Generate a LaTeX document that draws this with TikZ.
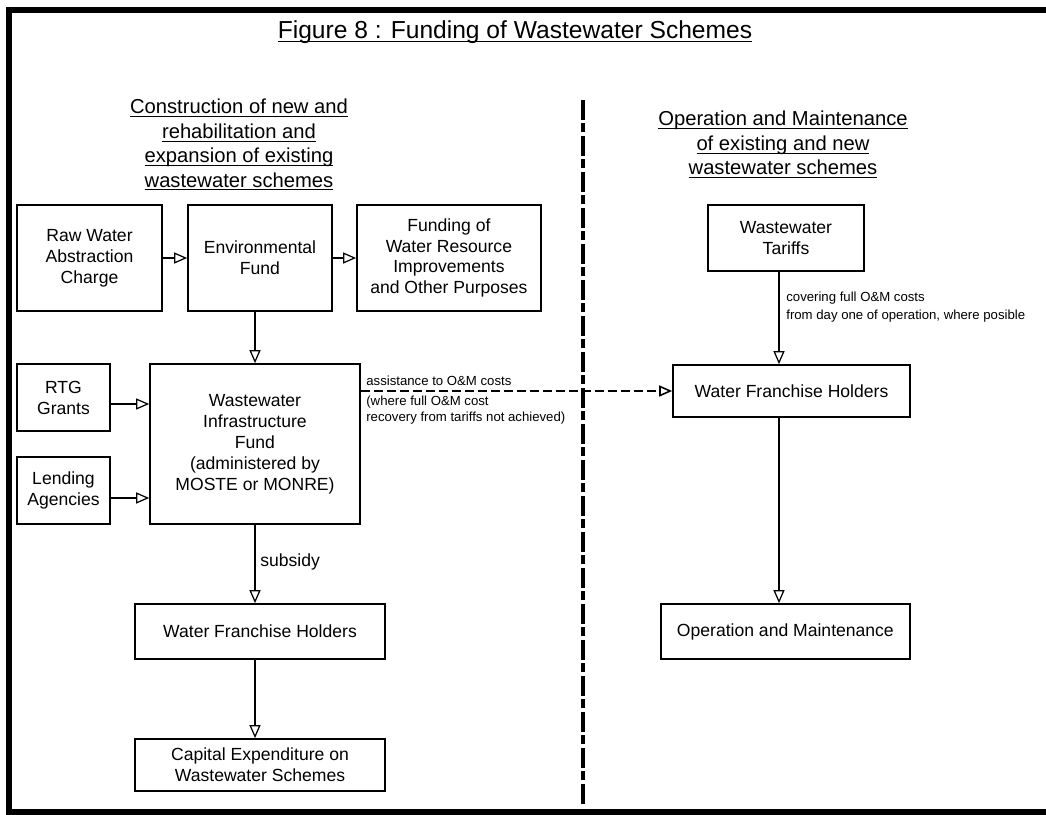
\documentclass[tikz,border=0pt]{standalone}
\usepackage{fontspec}
\setmainfont{Liberation Sans}
\usetikzlibrary{positioning}
\usetikzlibrary{arrows.meta}
\newcommand{\ulhead}[1]{\setbox0=\hbox{#1}\rlap{\rule[-0.16em]{\wd0}{0.055em}}\box0}

\begin{document}
\begin{tikzpicture}[x=0.02cm,y=-0.02cm,
    fundbox/.style={draw, line width=0.95pt, align=center, inner sep=0pt, font=\fontsize{10}{11.9}\selectfont},
    flow/.style={-{Triangle[open,length=0.26cm,width=0.22cm]}, line width=0.7pt},
    note/.style={inner sep=0pt, align=left, font=\fontsize{7.5}{9.1}\selectfont},
    heading/.style={inner sep=0pt, align=center, font=\fontsize{11.5}{13.9}\selectfont},
    divider/.style={line width=0.08cm, dash pattern=on 0.4cm off 0.07cm on 0.18cm off 0.07cm}]
    \useasboundingbox (0,0) rectangle (1046,815);
    \clip (0,0) rectangle (1046,815);

    % Rahmen und Titel
    \draw[line width=0.12cm] (1060,10) -- (9,10) -- (9,811.5) -- (1060,811.5);
    \node[inner sep=0pt, font=\fontsize{14}{16}\selectfont, anchor=base] (title) at (515,38) {\ulhead{Figure 8 : Funding of Wastewater Schemes}};

    % Ueberschriften
    \node[heading, anchor=north] (construct) at (239,99) {\ulhead{Construction of new and}\\\ulhead{rehabilitation and}\\\ulhead{expansion of existing}\\\ulhead{wastewater schemes}};
    \node[heading, anchor=north] (operate) at (783,111) {\ulhead{Operation and Maintenance}\\\ulhead{of existing and new}\\\ulhead{wastewater schemes}};

    % Trennlinie
    \coordinate (divtop) at (583,100);
    \coordinate (divbottom) at (583,805);
    \draw[divider] (divtop) -- (divbottom);

    % Investition
    \node[fundbox, minimum width=2.9cm, minimum height=2.12cm] (raw) at (89.5,258) {Raw Water\\Abstraction\\Charge};
    \node[fundbox, minimum width=2.88cm, minimum height=2.12cm, right of=raw, node distance=3.41cm] (envfund) {Environmental\\Fund};
    \node[fundbox, minimum width=3.68cm, minimum height=2.12cm, right of=envfund, node distance=3.78cm] (waterres) {Funding of\\Water Resource\\Improvements\\and Other Purposes};
    \node[fundbox, minimum width=1.86cm, minimum height=1.34cm] (rtg) at (63.5,397.5) {RTG\\Grants};
    \node[fundbox, minimum width=1.86cm, minimum height=1.34cm, below of=rtg, node distance=1.86cm] (lending) {Lending\\Agencies};
    \node[fundbox, minimum width=4.2cm, minimum height=3.2cm] (wif) at (255,444) {Wastewater\\Infrastructure\\Fund\\(administered by\\MOSTE or MONRE)};
    \node[fundbox, minimum width=5cm, minimum height=1.1cm] (holdersl) at (260,631.5) {Water Franchise Holders};
    \node[fundbox, minimum width=5cm, minimum height=1.04cm, below of=holdersl, node distance=2.67cm] (capex) {Capital Expenditure on\\Wastewater Schemes};

    % Betrieb
    \node[fundbox, minimum width=3.12cm, minimum height=1.32cm] (tariffs) at (786,238) {Wastewater\\Tariffs};
    \node[fundbox, minimum width=4.74cm, minimum height=1.04cm] (holdersr) at (791.5,391) {Water Franchise Holders};
    \node[fundbox, minimum width=4.98cm, minimum height=1.1cm, right of=holdersl, node distance=10.51cm] (om) {Operation and Maintenance};

    % Verbindungen
    \draw[flow] (raw) -- (envfund);
    \draw[flow] (envfund) -- (waterres);
    \draw[flow] (envfund.south -| wif.north) -- (wif.north);
    \path ([yshift=-0.13cm]rtg.east) coordinate (rtgout);
    \path ([yshift=-0.15cm]lending.east) coordinate (lendout);
    \draw[flow] (rtgout) -- (rtgout -| wif.west);
    \draw[flow] (lendout) -- (lendout -| wif.west);
    \draw[flow] (wif.south) -- (wif.south |- holdersl.north);
    \draw[flow] (wif.south |- holdersl.south) -- (wif.south |- capex.north);
    \draw[flow, line width=0.9pt, dash pattern=on 0.18cm off 0.08cm] (wif.east |- holdersr.west) -- (holdersr.west);
    \coordinate (rcol) at (779,0);
    \draw[flow] (tariffs.south -| rcol) -- (holdersr.north -| rcol);
    \draw[flow] (holdersr.south -| rcol) -- (om.north -| rcol);

    % Beschriftungen
    \node[note, anchor=base west] (assist) at (366,385) {assistance to O\&M costs};
    \node[note, anchor=north west] (where) at (366,396) {(where full O\&M cost\\recovery from tariffs not achieved)};
    \node[note, anchor=north west, font=\fontsize{7.5}{10.2}\selectfont] (covering) at (786,291.5) {covering full O\&M costs\\from day one of operation, where posible};
    \node[inner sep=0pt, anchor=base west, font=\fontsize{10}{11.9}\selectfont] (subsidy) at (260,566) {subsidy};
\end{tikzpicture}
\end{document}
